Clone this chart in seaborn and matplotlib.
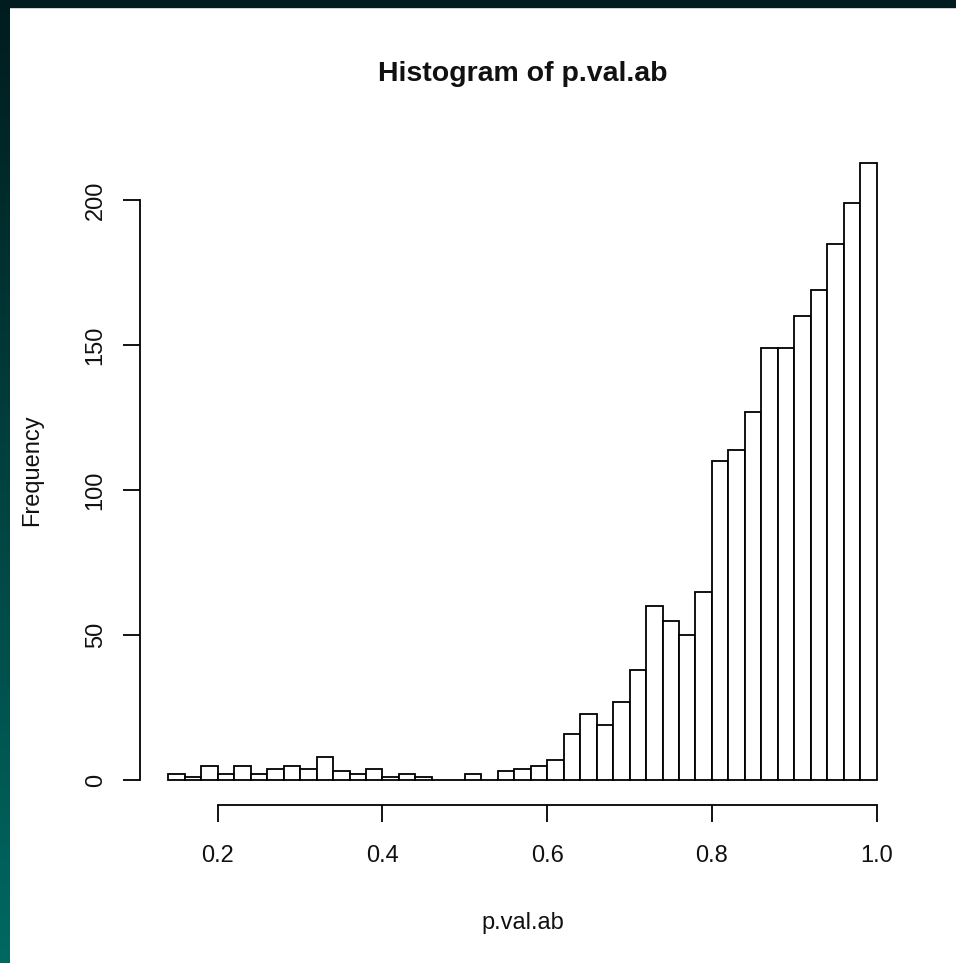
import numpy as np
import pandas as pd
import seaborn as sns
import matplotlib.pyplot as plt
from matplotlib.patches import Rectangle
from matplotlib.colors import LinearSegmentedColormap

# histogram of p-values, bin width 0.02 from 0.14 to 1.00
bin_left = np.round(np.arange(0.14, 1.0, 0.02), 2)
counts = [2, 1, 5, 2, 5, 2, 4, 5, 4, 8,
          3, 2, 4, 1, 2, 1, 0, 0, 2, 0,
          3, 4, 5, 7, 16, 23, 19, 27, 38, 60,
          55, 50, 65, 110, 114, 127, 149, 149, 160, 169,
          185, 199, 213]
x_ticks = [0.2, 0.4, 0.6, 0.8, 1.0]
y_ticks = [0, 50, 100, 150, 200]

df = pd.DataFrame({'p.val.ab': bin_left + 0.01, 'n': counts})

sns.set_theme(style="ticks")
plt.rcParams['font.family'] = ['Liberation Sans Narrow', 'Liberation Sans', 'DejaVu Sans']

W, H = 956, 963
fig = plt.figure(figsize=(W / 100, H / 100), dpi=100)
fig.patch.set_facecolor('white')

# dark teal frame of the screenshot (top strip + gradient on the left)
fig.patches.append(Rectangle((0, 1 - 7 / H), 1, 7 / H, transform=fig.transFigure,
                             color='#001c1e', zorder=0))
side = fig.add_axes([0, 0, 10 / W, 1])
grad = np.linspace(0, 1, 256).reshape(-1, 1)
cm = LinearSegmentedColormap.from_list('teal', ['#001c1e', '#006862'])
side.imshow(grad, aspect='auto', cmap=cm)
side.axis('off')

ax = fig.add_axes([140 / W, 1 - 805 / H, 765 / W, 670 / H])
sns.histplot(data=df, x='p.val.ab', weights='n', binwidth=0.02, binrange=(0.14, 1.0),
             ax=ax, color='white', edgecolor='black', linewidth=1.3, alpha=1)

ax.set_xlim(0.1056, 1.0344)
ax.set_ylim(-8.56, 222.56)
ax.set_xticks(x_ticks)
ax.set_xticklabels(['0.2', '0.4', '0.6', '0.8', '1.0'])
ax.set_yticks(y_ticks)
ax.set_yticklabels([str(v) for v in y_ticks], rotation=90, va='center')

for s in ['top', 'right']:
    ax.spines[s].set_visible(False)
ax.spines['left'].set_bounds(0, 200)
ax.spines['bottom'].set_bounds(0.2, 1.0)
for s in ['left', 'bottom']:
    ax.spines[s].set_linewidth(1.3)
    ax.spines[s].set_color('black')
ax.tick_params(axis='both', length=12, width=1.3, color='black',
               labelsize=17, labelcolor='#111111')
ax.tick_params(axis='x', pad=17)
ax.tick_params(axis='y', pad=12)

ax.set_xlabel('p.val.ab', fontsize=17, labelpad=32, color='#111111')
ax.set_ylabel('Frequency', fontsize=17, labelpad=30, color='#111111')
ax.set_title('Histogram of p.val.ab', fontsize=20.5, fontweight='bold', pad=39,
             color='#111111', family=['Liberation Sans', 'DejaVu Sans'])

fig.savefig('out.png', dpi=100)
